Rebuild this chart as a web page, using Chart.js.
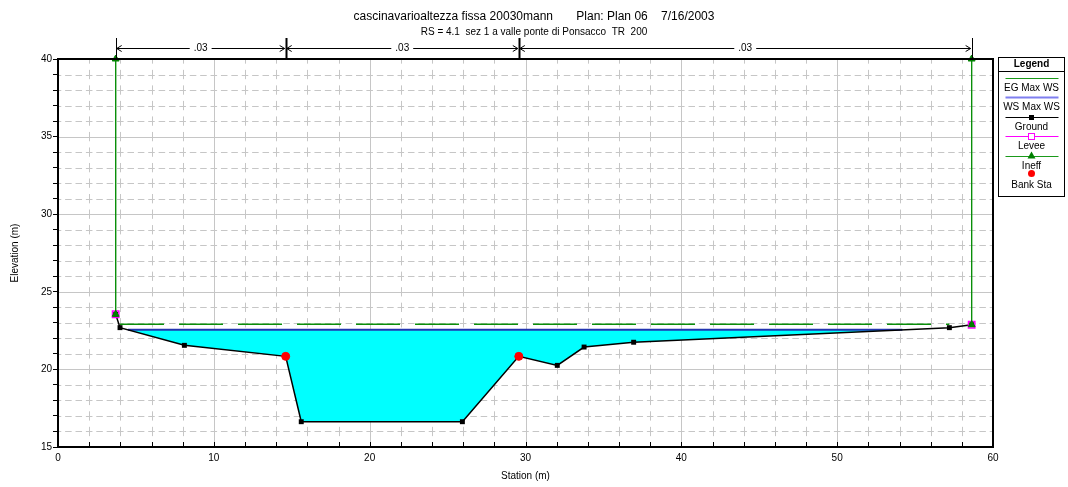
<!DOCTYPE html>
<html>
<head>
<meta charset="utf-8">
<script src="https://cdn.jsdelivr.net/npm/chart.js@4.4.0/dist/chart.umd.min.js"></script>
<style>
  html, body { margin: 0; padding: 0; background: #fff; }
  #wrap { width: 1068px; height: 487px; position: relative; }
</style>
</head>
<body>
<div id="wrap"><canvas id="xs"></canvas></div>
<script>
// HEC-RAS style cross section: RS 4.1, profile "Max WS"
const TITLE = "cascinavarioaltezza fissa 20030mann       Plan: Plan 06    7/16/2003";
const SUBTITLE = "RS = 4.1  sez 1 a valle ponte di Ponsacco  TR  200";

// axis ranges / tick steps
const X_MIN = 0, X_MAX = 60, X_STEP = 2, X_LABEL_EVERY = 10;
const Y_MIN = 15, Y_MAX = 40, Y_STEP = 1, Y_LABEL_EVERY = 5;

// ground profile (station m, elevation m)
const groundSta  = [3.70, 3.98, 8.11, 14.61, 15.61, 25.95, 29.57, 32.04, 33.76, 36.94, 57.20, 58.63];
const groundElev = [23.55, 22.69, 21.55, 20.84, 16.63, 16.63, 20.84, 20.26, 21.44, 21.75, 22.69, 22.88];

const wsElev = 22.55;            // WS Max WS
const egElev = 22.91;            // EG Max WS
const egSta  = [3.98, 57.20];

const bankSta  = [14.61, 29.57];
const bankElev = [20.84, 20.84];

const leveeSta  = [3.70, 58.63];
const leveeElev = [23.55, 22.88];

const ineffSta  = [3.70, 58.63];
const ineffElev = [23.55, 22.88];
const ineffTop  = 40;

// Manning's n zones shown above the plot
const nSta = [3.70, 14.61, 29.57, 58.63];
const nVal = [".03", ".03", ".03"];

const legendLabels = ["EG Max WS", "WS Max WS", "Ground", "Levee", "Ineff", "Bank Sta"];

const FONT = "'Liberation Sans', Arial, sans-serif";
Chart.defaults.font.family = FONT;
Chart.defaults.color = "#000";

const pts = (xs, ys) => xs.map((x, i) => ({ x, y: ys[i] }));

// ground below the water surface, with the two points where the WS meets the ground
function wetGround(sta, elev, ws) {
  const out = [];
  for (let i = 0; i < sta.length - 1; i++) {
    const x0 = sta[i], y0 = elev[i], x1 = sta[i + 1], y1 = elev[i + 1];
    if (y0 < ws) out.push({ x: x0, y: y0 });
    if ((y0 - ws) * (y1 - ws) < 0) out.push({ x: x0 + (ws - y0) / (y1 - y0) * (x1 - x0), y: ws });
  }
  return out;
}
const wet = wetGround(groundSta, groundElev, wsElev);
const wsLine = [wet[0], wet[wet.length - 1]].map(p => ({ x: p.x, y: wsElev }));

const ineffData = ineffSta.flatMap((s, i) => [{ x: s, y: ineffTop }, { x: s, y: ineffElev[i] }, { x: s, y: null }]);

function line(ctx, x0, y0, x1, y1) {
  ctx.beginPath(); ctx.moveTo(x0, y0); ctx.lineTo(x1, y1); ctx.stroke();
}

// dashed minor grid with "+" crossings, solid major grid
const gridPlugin = {
  id: "hecGrid",
  beforeDatasetsDraw(chart) {
    const { ctx, chartArea: a, scales: { x, y } } = chart;
    const perX = (x.getPixelForValue(X_STEP) - x.getPixelForValue(0)) / 3;
    const perY = y.getPixelForValue(Y_MIN) - y.getPixelForValue(Y_MIN + 1);
    ctx.save();
    ctx.beginPath(); ctx.rect(a.left, a.top, a.right - a.left, a.bottom - a.top); ctx.clip();
    ctx.strokeStyle = "#c6c6c6"; ctx.lineWidth = 1;
    for (let v = Y_MIN + Y_STEP; v < Y_MAX; v += Y_STEP) {
      const py = Math.round(y.getPixelForValue(v)) + 0.5;
      if (v % Y_LABEL_EVERY === 0) ctx.setLineDash([]);
      else { ctx.setLineDash([perX * 0.63, perX * 0.37]); ctx.lineDashOffset = perX * 0.315; }
      line(ctx, a.left, py, a.right, py);
    }
    for (let v = X_MIN + X_STEP; v < X_MAX; v += X_STEP) {
      const px = Math.round(x.getPixelForValue(v)) + 0.5;
      if (v % X_LABEL_EVERY === 0) ctx.setLineDash([]);
      else { ctx.setLineDash([perY * 0.6, perY * 0.4]); ctx.lineDashOffset = perY * 0.3; }
      line(ctx, px, a.bottom, px, a.top);
    }
    ctx.restore();
  },
  afterDatasetsDraw(chart) {
    const { ctx, chartArea: a, scales: { x } } = chart;
    ctx.save();
    ctx.strokeStyle = "#000"; ctx.lineWidth = 1;
    for (let v = X_MIN; v <= X_MAX; v += X_STEP) {
      const px = Math.round(x.getPixelForValue(v)) + 0.5;
      line(ctx, px, a.bottom, px, a.bottom - 5);
    }
    ctx.lineWidth = 2;
    ctx.strokeRect(a.left, a.top, a.right - a.left, a.bottom - a.top);
    ctx.restore();
  }
};

// roughness zones with arrows across the top
const nPlugin = {
  id: "manningN",
  afterDraw(chart) {
    const { ctx, chartArea: a, scales: { x } } = chart;
    const yL = 48.5, yT = 38;
    ctx.save();
    ctx.strokeStyle = "#000"; ctx.fillStyle = "#000";
    nSta.forEach((s, i) => {
      const px = Math.round(x.getPixelForValue(s)) + 0.5;
      ctx.lineWidth = (i === 0 || i === nSta.length - 1) ? 1 : 2;
      line(ctx, px, yT, px, a.top);
    });
    ctx.font = "10px " + FONT;
    ctx.textAlign = "center"; ctx.textBaseline = "middle";
    nVal.forEach((lbl, i) => {
      const x0 = x.getPixelForValue(nSta[i]) + 1, x1 = x.getPixelForValue(nSta[i + 1]) - 1;
      ctx.lineWidth = 1;
      line(ctx, x0, yL, x1, yL);
      ctx.beginPath();
      ctx.moveTo(x0 + 5, yL - 3); ctx.lineTo(x0, yL); ctx.lineTo(x0 + 5, yL + 3);
      ctx.moveTo(x1 - 5, yL - 3); ctx.lineTo(x1, yL); ctx.lineTo(x1 - 5, yL + 3);
      ctx.stroke();
      const cx = (x0 + x1) / 2, w = ctx.measureText(lbl).width + 8;
      ctx.fillStyle = "#fff"; ctx.fillRect(cx - w / 2, yL - 5, w, 10);
      ctx.fillStyle = "#000"; ctx.fillText(lbl, cx, yL);
    });
    ctx.restore();
  }
};

const legendStyle = [
  { line: "#1a9a1a", w: 1 },
  { line: "#7f7ff0", w: 2 },
  { line: "#000", w: 1, mark: "square", fill: "#000" },
  { line: "#ff00ff", w: 1, mark: "open", stroke: "#ff00ff" },
  { line: "#1a9a1a", w: 1, mark: "triangle", fill: "#008000" },
  { mark: "dot", fill: "#ff0000" }
];

const legendPlugin = {
  id: "hecLegend",
  afterDraw(chart) {
    const { ctx, chartArea: a } = chart;
    const L = Math.round(a.right) + 5.5, R = chart.width - 3.5, T = 57.5, B = 196.5;
    const cx = (L + R) / 2;
    ctx.save();
    ctx.fillStyle = "#fff"; ctx.fillRect(L, T, R - L, B - T);
    ctx.strokeStyle = "#000"; ctx.lineWidth = 1; ctx.strokeRect(L, T, R - L, B - T);
    line(ctx, L, 71.5, R, 71.5);
    ctx.fillStyle = "#000"; ctx.textAlign = "center"; ctx.textBaseline = "middle";
    ctx.font = "bold 10px " + FONT;
    ctx.fillText("Legend", cx, 64.5);
    ctx.font = "10px " + FONT;
    legendLabels.forEach((lbl, i) => {
      const st = legendStyle[i];
      const ly = Math.round(78 + i * 19.4) + 0.5;
      if (st.line) { ctx.strokeStyle = st.line; ctx.lineWidth = st.w; line(ctx, L + 7, ly, R - 6, ly); }
      if (st.mark === "square") { ctx.fillStyle = st.fill; ctx.fillRect(cx - 2.5, ly - 2.5, 5, 5); }
      if (st.mark === "open") { ctx.strokeStyle = st.stroke; ctx.lineWidth = 1; ctx.fillStyle = "#fff"; ctx.fillRect(cx - 3, ly - 3, 6, 6); ctx.strokeRect(cx - 3, ly - 3, 6, 6); }
      if (st.mark === "triangle") { ctx.fillStyle = st.fill; ctx.beginPath(); ctx.moveTo(cx, ly - 5); ctx.lineTo(cx + 4, ly + 2); ctx.lineTo(cx - 4, ly + 2); ctx.closePath(); ctx.fill(); }
      if (st.mark === "dot") { ctx.fillStyle = st.fill; ctx.beginPath(); ctx.arc(cx, ly - 2, 3.5, 0, Math.PI * 2); ctx.fill(); }
      ctx.fillStyle = "#000";
      ctx.fillText(lbl, cx, ly + 10);
    });
    ctx.restore();
  }
};

new Chart(document.getElementById("xs"), {
  type: "scatter",
  data: {
    datasets: [
      { label: "Water", data: wet, showLine: true, borderWidth: 0, pointRadius: 0,
        backgroundColor: "#00ffff", fill: { value: wsElev }, order: 7 },
      { label: "EG Max WS", data: egSta.map(s => ({ x: s, y: egElev })), showLine: true,
        borderColor: "#0a8f0a", borderWidth: 1.5, borderDash: [44, 15], pointRadius: 0, order: 6 },
      { label: "WS Max WS", data: wsLine, showLine: true, borderColor: "#2234b0",
        borderWidth: 2, pointRadius: 0, order: 5 },
      { label: "Ground", data: pts(groundSta, groundElev), showLine: true, borderColor: "#000",
        borderWidth: 1.5, pointStyle: "rect", pointRadius: 3.5, backgroundColor: "#000",
        pointBorderColor: "#000", pointBorderWidth: 0, order: 4 },
      { label: "Levee", data: pts(leveeSta, leveeElev), pointStyle: "rect", pointRadius: 4.5,
        pointBorderColor: "#ff00ff", backgroundColor: "rgba(255,255,255,0)", pointBorderWidth: 1.5, order: 3 },
      { label: "Ineff", data: ineffData, showLine: true, spanGaps: false, borderColor: "#0a8f0a",
        borderWidth: 1, pointStyle: "triangle", pointRadius: 4, backgroundColor: "#008000",
        pointBorderColor: "#008000", clip: false, order: 2 },
      { label: "Bank Sta", data: pts(bankSta, bankElev), pointStyle: "circle", pointRadius: 4,
        backgroundColor: "#ff0000", pointBorderColor: "#ff0000", order: 1 }
    ]
  },
  options: {
    responsive: true,
    maintainAspectRatio: false,
    animation: false,
    devicePixelRatio: 1,
    events: [],
    layout: { padding: 0 },
    plugins: {
      legend: { display: false },
      tooltip: { enabled: false },
      title: { display: true, text: TITLE, color: "#000",
               font: { size: 12, weight: "normal" }, padding: { top: 9, bottom: 2 } },
      subtitle: { display: true, text: SUBTITLE, color: "#000",
                  font: { size: 10 }, padding: { top: 1, bottom: 20.6 } }
    },
    scales: {
      x: {
        type: "linear", min: X_MIN, max: X_MAX,
        ticks: { stepSize: X_STEP, autoSkip: false, maxRotation: 0, padding: 5, font: { size: 10 },
                 callback: v => (v % X_LABEL_EVERY === 0 ? v : "") },
        grid: { drawOnChartArea: false, drawTicks: false },
        border: { color: "#000", width: 2 },
        title: { display: true, text: "Station (m)", font: { size: 10 }, padding: { top: 0, bottom: 5 } },
        afterFit: s => { s.height = 40; }
      },
      y: {
        type: "linear", min: Y_MIN, max: Y_MAX,
        ticks: { stepSize: Y_STEP, autoSkip: false, padding: 1, font: { size: 10 },
                 callback: v => (v % Y_LABEL_EVERY === 0 ? v : "") },
        grid: { drawOnChartArea: false, tickLength: 5, tickColor: "#000" },
        border: { color: "#000", width: 2 },
        title: { display: true, text: "Elevation (m)", font: { size: 10 }, padding: { top: 9, bottom: 0 } },
        afterFit: s => { s.width = 58; }
      },
      // empty right-hand strip that holds the legend box
      side: {
        type: "linear", position: "right", min: Y_MIN, max: Y_MAX,
        ticks: { display: false }, grid: { display: false }, border: { display: false },
        afterFit: s => { s.width = 75; }
      }
    }
  },
  plugins: [gridPlugin, nPlugin, legendPlugin]
});
</script>
</body>
</html>
